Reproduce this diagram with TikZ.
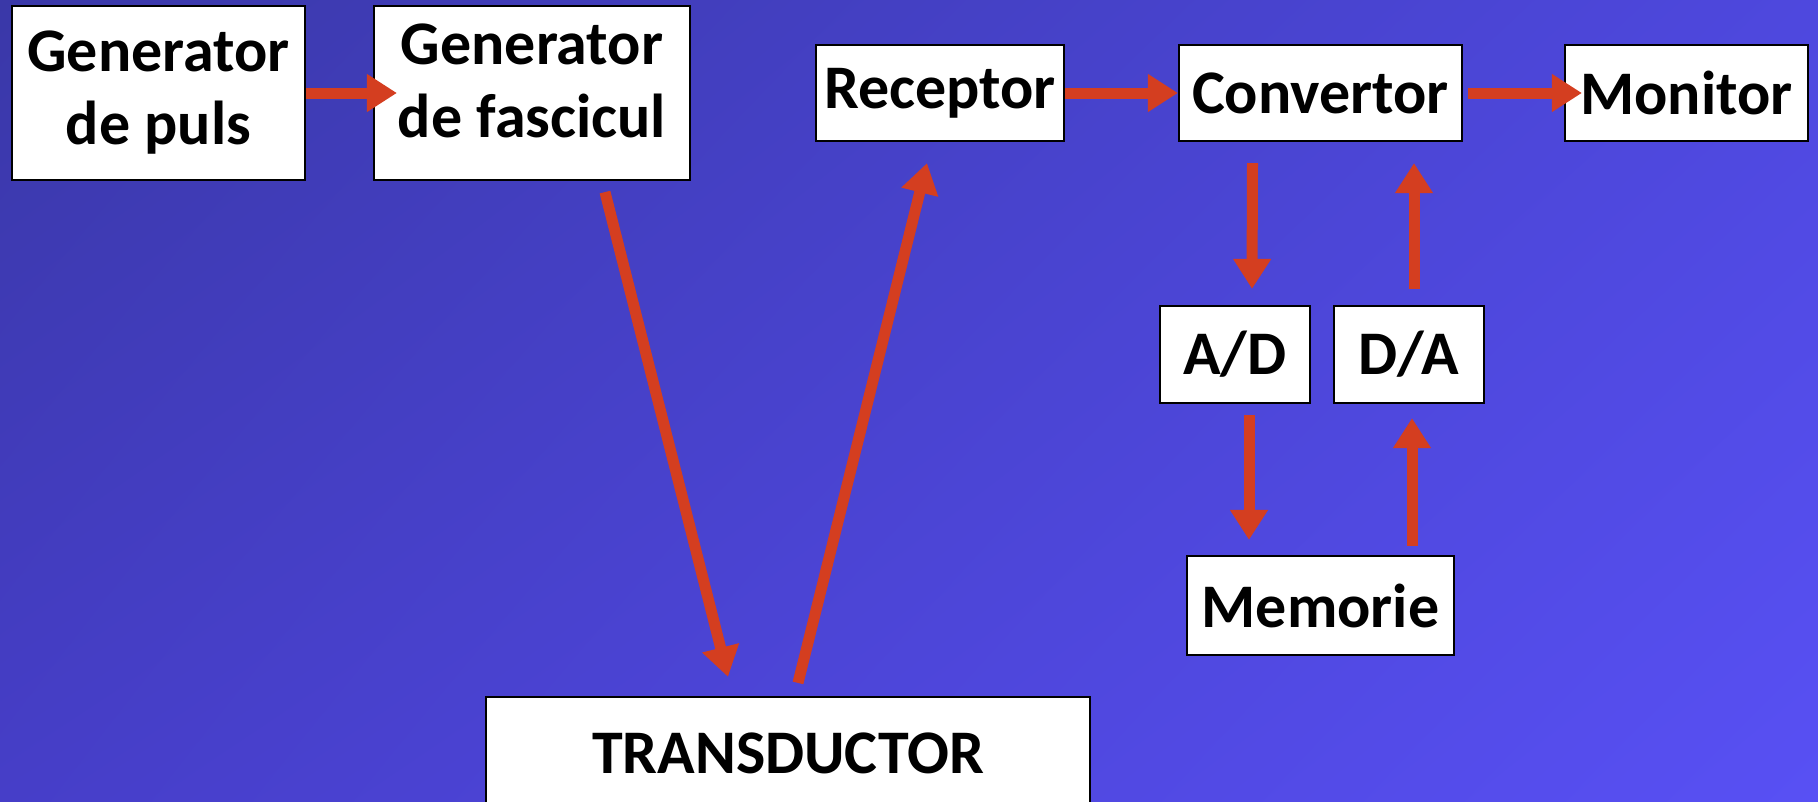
\documentclass[tikz,border=0pt]{standalone}
\usepackage{fontspec}
\setmainfont{Carlito}
\usetikzlibrary{arrows.meta,shadings}
\definecolor{bgTL}{RGB}{58,56,168}
\definecolor{bgTR}{RGB}{78,72,222}
\definecolor{bgBL}{RGB}{70,62,200}
\definecolor{bgBR}{RGB}{88,80,244}
\definecolor{arrred}{RGB}{212,62,32}
\tikzset{
  box/.style={draw=black, line width=2.2pt, fill=white, inner sep=0pt,
    font=\fontsize{62}{73}\selectfont\bfseries, align=center, text=black},
  arr/.style={draw=arrred, line width=11pt,
    -{Triangle[width=36pt,length=30pt]}}
}
\begin{document}
\begin{tikzpicture}[x=1pt,y=-1pt]
\useasboundingbox (0,0) rectangle (1818,801);
\shade[upper left=bgTL, upper right=bgTR, lower left=bgBL, lower right=bgBR]
  (0,0) rectangle (1818,801);
\node[box, minimum width=293pt, minimum height=174pt] (GP) at (158.5,93) {Generator\\de puls};
\node[box, minimum width=316pt, minimum height=174pt, text depth=24pt] (GF) at (532,93) {Generator\\de fascicul};
\node[box, minimum width=248pt, minimum height=96pt] (RC) at (940,93) {Receptor};
\node[box, minimum width=283pt, minimum height=96pt] (CV) at (1320.5,93) {Convertor};
\node[box, minimum width=243pt, minimum height=96pt] (MO) at (1686.5,93) {Monitor};
\node[box, minimum width=150pt, minimum height=97pt] (AD) at (1235,354.5) {A/D};
\node[box, minimum width=150pt, minimum height=97pt] (DA) at (1409,354.5) {D/A};
\node[box, minimum width=267pt, minimum height=99pt] (ME) at (1320.5,605.5) {Memorie};
\node[box, minimum width=604pt, minimum height=112pt] (TR) at (788,753) {TRANSDUCTOR};
% connectors
\draw[arr] (GP.east) -- ([xshift=24pt]GF.west);
\draw[arr] (RC.east) -- (CV.west);
\draw[arr] ([xshift=5pt]CV.east) -- ([xshift=18pt]MO.west);
\draw[arr] ([xshift=73pt,yshift=-11pt]GF.south) -- ([xshift=-60pt,yshift=19pt]TR.north);
\draw[arr] ([xshift=10pt,yshift=13pt]TR.north) -- ([xshift=-13pt,yshift=-21pt]RC.south);
\draw[arr] ([xshift=-68pt,yshift=-21pt]CV.south) -- ([xshift=17pt,yshift=16pt]AD.north);
\draw[arr] ([xshift=14pt,yshift=-11pt]AD.south) -- ([xshift=-71.5pt,yshift=15pt]ME.north);
\draw[arr] ([xshift=91.5pt,yshift=9pt]ME.north) -- ([xshift=3pt,yshift=-14pt]DA.south);
\draw[arr] ([xshift=5pt,yshift=16pt]DA.north) -- ([xshift=93.5pt,yshift=-21pt]CV.south);
\end{tikzpicture}
\end{document}
